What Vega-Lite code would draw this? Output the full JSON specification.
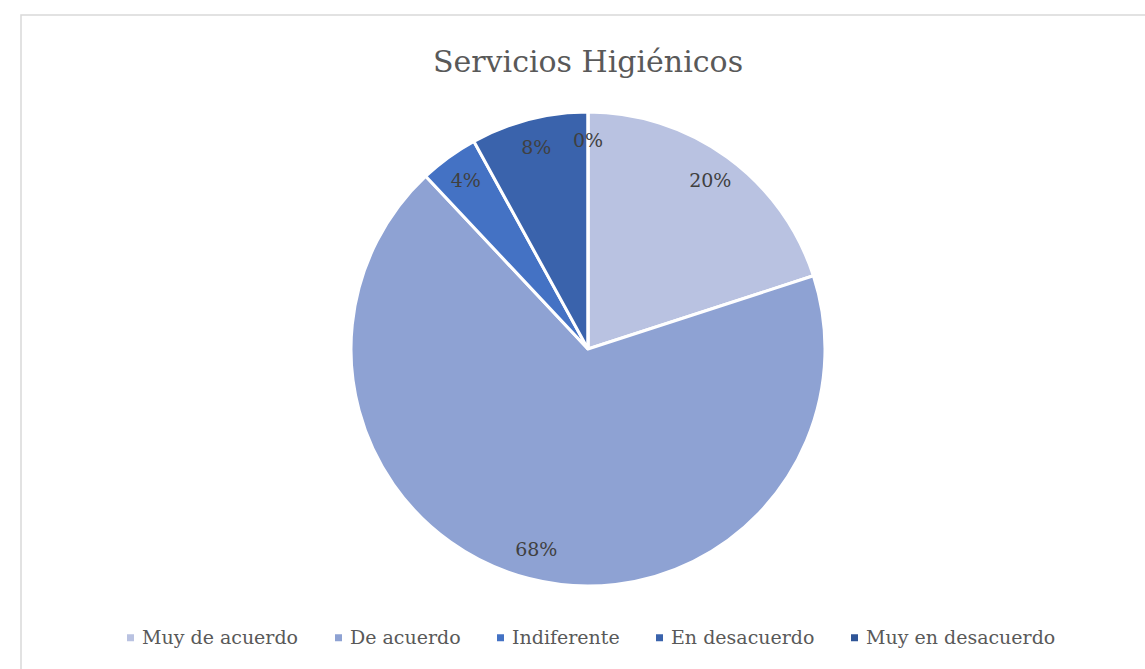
{
  "$schema": "https://vega.github.io/schema/vega-lite/v6.json",
  "autosize": {"type": "none"},
  "padding": {"left": 21, "top": 15, "right": 0, "bottom": 0},
  "width": 1134,
  "height": 668,
  "background": "white",
  "view": {"stroke": "#d9d9d9", "strokeWidth": 1.5, "fill": "white"},
  "title": {
    "text": "Servicios Higiénicos",
    "font": "DejaVu Serif",
    "fontSize": 30,
    "fontWeight": "normal",
    "color": "#595959",
    "anchor": "middle",
    "frame": "group",
    "offset": 0,
    "dy": 63
  },
  "data": {
    "values": [
      {"categoria": "Muy de acuerdo", "porcentaje": 20, "etiqueta": "20%", "orden": 1},
      {"categoria": "De acuerdo", "porcentaje": 68, "etiqueta": "68%", "orden": 2},
      {"categoria": "Indiferente", "porcentaje": 4, "etiqueta": "4%", "orden": 3},
      {"categoria": "En desacuerdo", "porcentaje": 8, "etiqueta": "8%", "orden": 4},
      {"categoria": "Muy en desacuerdo", "porcentaje": 0, "etiqueta": "0%", "orden": 5}
    ]
  },
  "encoding": {
    "theta": {"field": "porcentaje", "type": "quantitative", "stack": true},
    "order": {"field": "orden", "type": "quantitative"},
    "color": {
      "field": "categoria",
      "type": "nominal",
      "scale": {
        "domain": ["Muy de acuerdo", "De acuerdo", "Indiferente", "En desacuerdo", "Muy en desacuerdo"],
        "range": ["#b9c2e1", "#8ea2d3", "#4472c4", "#3a63ac", "#2f5597"]
      },
      "legend": {
        "title": null,
        "orient": "none",
        "direction": "horizontal",
        "legendX": 100,
        "legendY": 613,
        "symbolType": "square",
        "symbolSize": 49,
        "symbolStrokeWidth": 0,
        "labelFont": "DejaVu Serif",
        "labelFontSize": 19,
        "labelColor": "#595959",
        "labelOffset": 2,
        "columnPadding": 30,
        "labelLimit": 400
      }
    }
  },
  "layer": [
    {
      "mark": {"type": "arc", "outerRadius": 237, "stroke": "white", "strokeWidth": 3}
    },
    {
      "mark": {"type": "text", "radius": 208, "font": "DejaVu Serif", "fontSize": 19},
      "encoding": {
        "text": {"field": "etiqueta", "type": "nominal"},
        "color": {"value": "#404040"}
      }
    }
  ]
}
